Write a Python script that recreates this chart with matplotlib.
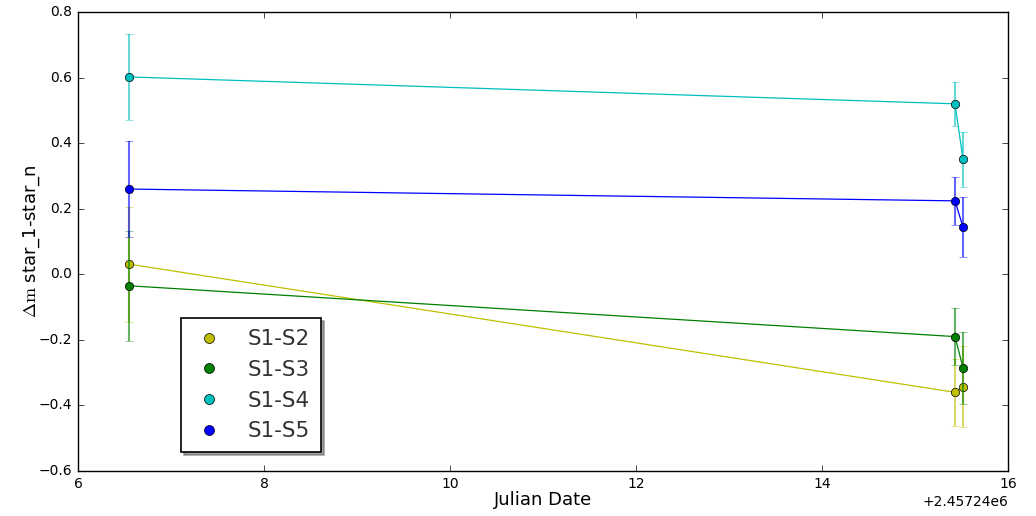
import numpy as np
import matplotlib
matplotlib.use("Agg")
import matplotlib.pyplot as plt

plt.style.use("classic")

# Julian dates of the three nights
jd = [2457246.548, 2457255.430, 2457255.516]

labels = ["S1-S2", "S1-S3", "S1-S4", "S1-S5"]
colors = ["y", "g", "c", "b"]

# differential magnitudes and their errors
dm_s2 = [0.031, -0.360, -0.343]
err_s2 = [0.175, 0.103, 0.123]
dm_s3 = [-0.035, -0.190, -0.285]
err_s3 = [0.168, 0.087, 0.110]
dm_s4 = [0.602, 0.520, 0.351]
err_s4 = [0.130, 0.067, 0.084]
dm_s5 = [0.260, 0.224, 0.144]
err_s5 = [0.146, 0.074, 0.091]

series = [dm_s2, dm_s3, dm_s4, dm_s5]
errors = [err_s2, err_s3, err_s4, err_s5]

fig = plt.figure(figsize=(10.36, 5.16), dpi=100)
ax = fig.add_axes([0.0753, 0.0872, 0.8977, 0.8895])

handles = []
for y, e, c, lab in zip(series, errors, colors, labels):
    ax.errorbar(jd, y, yerr=e, fmt="none", ecolor=c, alpha=0.6,
                capsize=3, elinewidth=1.5)
    ax.plot(jd, y, "-", color=c, lw=0.9)
    h, = ax.plot(jd, y, "o", color=c, mec="k", mew=0.5, ms=6, label=lab)
    handles.append(h)

ax.set_xlim(2457246, 2457256)
ax.set_ylim(-0.6, 0.8)
ax.ticklabel_format(axis="x", useOffset=2457240)
ax.tick_params(labelsize=10)
ax.xaxis.get_offset_text().set_fontsize(10)
ax.set_xlabel("Julian Date", fontsize=13, labelpad=0)
ax.set_ylabel(r"$\Delta\mathrm{m}$ star_1-star_n", fontsize=13)
ax.yaxis.set_label_coords(-0.039, 0.5)

leg = ax.legend(handles=handles, loc="lower left", numpoints=1,
                bbox_to_anchor=(0.111, 0.041), borderaxespad=0,
                fontsize=15.5, shadow=True, borderpad=0.5,
                labelspacing=0.5, handlelength=1.6, handletextpad=1.0,
                markerscale=1.2, fancybox=False)
leg.get_frame().set_linewidth(1.2)
for t in leg.get_texts():
    t.set_color("#333333")

fig.savefig("out.png", dpi=100)
